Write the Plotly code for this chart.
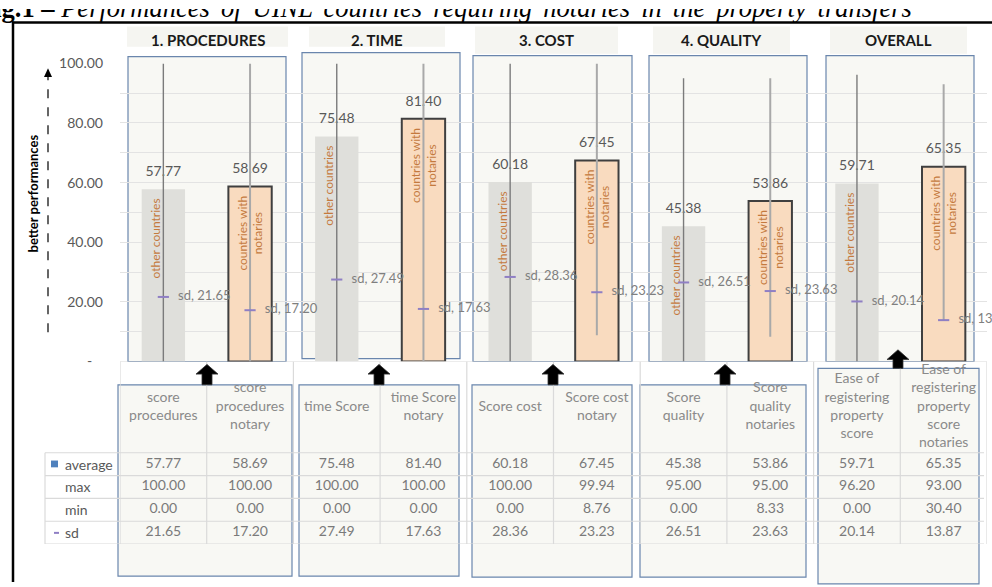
import plotly.graph_objects as go

W, H = 992, 587


def fx(x):
    return x / W


def fy(y):
    return 1 - y / H


# ---------------- data ----------------
groups = ["1. PROCEDURES", "2. TIME", "3. COST", "4. QUALITY", "OVERALL"]
columns = [
    "score<br>procedures",
    "score<br>procedures<br>notary",
    "time Score",
    "time Score<br>notary",
    "Score cost",
    "Score cost<br>notary",
    "Score<br>quality",
    "Score<br>quality<br>notaries",
    "Ease of<br>registering<br>property<br>score",
    "Ease of<br>registering<br>property<br>score<br>notaries",
]
series_names = ["other countries", "countries with<br>notaries"]
average = [57.77, 58.69, 75.48, 81.40, 60.18, 67.45, 45.38, 53.86, 59.71, 65.35]
maximum = [100.00, 100.00, 100.00, 100.00, 100.00, 99.94, 95.00, 95.00, 96.20, 93.00]
minimum = [0.00, 0.00, 0.00, 0.00, 0.00, 8.76, 0.00, 8.33, 0.00, 30.40]
sd = [21.65, 17.20, 27.49, 17.63, 28.36, 23.23, 26.51, 23.63, 20.14, 13.87]
row_names = ["average", "max", "min", "sd"]
y_tick_vals = [0, 10, 20, 30, 40, 50, 60, 70, 80, 90, 100]
y_tick_text = ["-\u00a0\u00a0\u00a0", "", "20.00", "", "40.00", "", "60.00", "", "80.00", "", "100.00"]
y_axis_title = "better performances"
title_bold = "Fig.1 –"
title_italic = "Performances of UINL countries requiring notaries in the property transfers"

# ---------------- styles ----------------
FONT = "Lato"
GRAY_TXT = "#595959"
TABLE_TXT = "#7a7a7a"
LABEL_ORANGE = "#c47a3e"
BOX_LINE = "#6a86ad"
BOX_FILL = "#f8f8f4"
TITLE_FILL = "#f5f5f1"
GRID = "#e3e3e3"

idx = list(range(len(columns)))
other_idx = idx[0::2]
notary_idx = idx[1::2]

fig = go.Figure()

# bars
fig.add_trace(go.Bar(
    x=other_idx, y=[average[i] for i in other_idx], width=0.5,
    marker=dict(color="#dfdfdb", line=dict(width=0)),
    text=[series_names[0] + "\u00a0\u00a0<br>\u00a0"] * len(other_idx),
    textposition="inside", insidetextanchor="end", textangle=-90,
    constraintext="none",
    insidetextfont=dict(family=FONT, size=12, color=LABEL_ORANGE),
    hoverinfo="skip", xaxis="x", yaxis="y",
))
fig.add_trace(go.Bar(
    x=notary_idx, y=[average[i] for i in notary_idx], width=0.5,
    marker=dict(color="#f9dbbf", line=dict(width=2, color="#3f3f3f")),
    text=[series_names[1].replace("<br>", "\u00a0\u00a0<br>") + "\u00a0\u00a0"] * len(notary_idx),
    textposition="inside", insidetextanchor="end", textangle=-90,
    constraintext="none",
    insidetextfont=dict(family=FONT, size=12, color=LABEL_ORANGE),
    hoverinfo="skip", xaxis="x", yaxis="y",
))

# value labels on top of bars
fig.add_trace(go.Scatter(
    x=idx, y=average, mode="markers+text",
    marker=dict(size=14, opacity=0),
    text=[f"{v:.2f}" for v in average], textposition="top center",
    textfont=dict(family=FONT, size=14, color=GRAY_TXT),
    cliponaxis=False, hoverinfo="skip",
))

# high-low lines (highest to lowest of line series)
for sel, col, wd in ((other_idx, "#7b7b7b", 1.4), (notary_idx, "#a9a9a9", 2)):
    xs, ys = [], []
    for i in sel:
        xs += [i, i, None]
        ys += [max(maximum[i], sd[i]), min(minimum[i], sd[i]), None]
    fig.add_trace(go.Scatter(x=xs, y=ys, mode="lines",
                             line=dict(color=col, width=wd),
                             cliponaxis=False, hoverinfo="skip"))

# sd markers and labels
fig.add_trace(go.Scatter(
    x=idx, y=sd, mode="markers",
    marker=dict(symbol="line-ew", size=8, line=dict(color="#8f7fc4", width=2)),
    cliponaxis=False, hoverinfo="skip",
))
fig.add_trace(go.Scatter(
    x=idx, y=sd, mode="markers+text",
    marker=dict(size=22, opacity=0),
    text=[f"sd, {v:.2f}" for v in sd], textposition="middle right",
    textfont=dict(family=FONT, size=13, color="#7f7f7f"),
    cliponaxis=False, hoverinfo="skip",
))

# ---------------- data table (second axes) ----------------
ROW_POS = [3.5, 2.5, 1.5, 0.5]
rows = [average, maximum, minimum, sd]
tx, ty, tt = [], [], []
for r, vals in enumerate(rows):
    for i, v in enumerate(vals):
        tx.append(i)
        ty.append(ROW_POS[r])
        tt.append(f"{v:.2f}")
fig.add_trace(go.Scatter(
    x=tx, y=ty, mode="text", text=tt, textposition="middle center",
    textfont=dict(family=FONT, size=14, color=TABLE_TXT),
    xaxis="x2", yaxis="y2", cliponaxis=False, hoverinfo="skip",
))
fig.add_trace(go.Scatter(
    x=idx, y=[6.0] * len(idx), mode="text", text=columns, textposition="middle center",
    textfont=dict(family=FONT, size=14, color="#8a8a8a"),
    xaxis="x2", yaxis="y2", cliponaxis=False, hoverinfo="skip",
))

# title (justified-looking word spacing), clipped at the top edge like the reference crop
title_html = f"<b>{title_bold}</b> <i>{title_italic.replace(' ', ' ' + chr(0x2006))}</i>"
fig.add_trace(go.Scatter(
    x=[-22], y=[14.6], mode="text", text=[title_html], textposition="top right",
    textfont=dict(family="Liberation Serif", size=26.5, color="#000000"),
    xaxis="x3", yaxis="y3", cliponaxis=True, hoverinfo="skip",
))

# ---------------- shapes ----------------
shapes = []

upper_boxes = [(128, 49, 286, 363), (302, 45, 460, 360), (473, 48, 632, 363),
               (649, 48, 807, 363), (826, 48, 974, 363)]
for x0, y0, x1, y1 in upper_boxes:
    shapes.append(dict(type="rect", xref="paper", yref="paper",
                       x0=fx(x0), x1=fx(x1), y0=fy(y1), y1=fy(y0),
                       line=dict(color=BOX_LINE, width=1.2), fillcolor=BOX_FILL, layer="below"))

title_boxes = [(127, 18, 288, 39), (309, 18, 445, 39), (475, 18, 618, 46),
               (653, 18, 790, 46), (830, 18, 967, 46)]
for x0, y0, x1, y1 in title_boxes:
    shapes.append(dict(type="rect", xref="paper", yref="paper",
                       x0=fx(x0), x1=fx(x1), y0=fy(y1), y1=fy(y0),
                       line=dict(width=0), fillcolor=TITLE_FILL, layer="below"))

lower_boxes = [(118, 387, 292, 584), (299, 387, 459, 584), (472, 387, 632, 585),
               (640, 387, 806, 585), (818, 370, 979, 592)]
for x0, y0, x1, y1 in lower_boxes:
    shapes.append(dict(type="rect", xref="paper", yref="paper",
                       x0=fx(x0), x1=fx(x1), y0=fy(y1), y1=fy(y0),
                       line=dict(color=BOX_LINE, width=1.2), fillcolor=BOX_FILL, layer="below"))

TL = "#dadada"
for k in range(5):
    shapes.append(dict(type="line", xref="paper", yref="y2", x0=fx(45), x1=fx(984),
                       y0=k, y1=k, line=dict(color=TL, width=1.2), layer="below"))
shapes.append(dict(type="line", xref="paper", yref="y2", x0=fx(120), x1=fx(987),
                   y0=8, y1=8, line=dict(color=TL, width=1.2), layer="below"))
for k in range(len(columns) + 1):
    shapes.append(dict(type="line", xref="x2", yref="y2", x0=k - 0.5, x1=k - 0.5,
                       y0=0, y1=8, line=dict(color=TL, width=1.2), layer="below"))
shapes.append(dict(type="line", xref="paper", yref="y2", x0=fx(45), x1=fx(45),
                   y0=0, y1=4, line=dict(color=TL, width=1.2), layer="below"))

shapes.append(dict(type="rect", xref="paper", yref="paper", x0=fx(51), x1=fx(58),
                   y0=fy(472), y1=fy(465), fillcolor="#4f81bd", line=dict(width=0)))
shapes.append(dict(type="line", xref="paper", yref="paper", x0=fx(54), x1=fx(59),
                   y0=fy(539.5), y1=fy(539.5), line=dict(color="#8f7fc4", width=2)))


def up_arrow(cx, tip, base, hw=11, sw=5, head=10):
    pts = [(cx, tip), (cx + hw, tip + head), (cx + sw, tip + head), (cx + sw, base),
           (cx - sw, base), (cx - sw, tip + head), (cx - hw, tip + head)]
    path = "M " + " L ".join(f"{fx(a):.5f},{fy(b):.5f}" for a, b in pts) + " Z"
    return dict(type="path", xref="paper", yref="paper", path=path,
                fillcolor="#000000", line=dict(color="#333333", width=0.8))


for cx, tip, base in [(207, 366, 387), (379, 366, 387), (553, 366, 387),
                      (725, 366, 387), (898, 351, 370)]:
    shapes.append(up_arrow(cx, tip, base))

shapes.append(dict(type="line", xref="paper", yref="paper", x0=fx(48), x1=fx(48),
                   y0=fy(333), y1=fy(68), line=dict(color="#000000", width=1.2, dash="dash")))
shapes.append(dict(type="path", xref="paper", yref="paper",
                   path=f"M {fx(48)},{fy(61)} L {fx(52)},{fy(70)} L {fx(44)},{fy(70)} Z",
                   fillcolor="#000000", line=dict(width=0)))

shapes.append(dict(type="line", xref="paper", yref="paper", x0=fx(12), x1=fx(992),
                   y0=fy(14), y1=fy(14), line=dict(color="#000000", width=2.5)))
shapes.append(dict(type="line", xref="paper", yref="paper", x0=fx(13), x1=fx(13),
                   y0=fy(13), y1=fy(590), line=dict(color="#000000", width=2.5)))

# ---------------- annotations ----------------
annotations = []
for (x0, y0, x1, y1), g in zip(title_boxes, groups):
    annotations.append(dict(text=f"<b>{g}</b>", xref="paper", yref="paper",
                            x=fx((x0 + x1) / 2), y=fy(32), xanchor="center", yanchor="middle",
                            showarrow=False, font=dict(family=FONT, size=15, color="#1a1a1a")))
annotations.append(dict(text=f"<b>{y_axis_title}</b>", xref="paper", yref="paper",
                        x=fx(33), y=fy(190), textangle=-90, showarrow=False,
                        xanchor="center", yanchor="middle",
                        font=dict(family=FONT, size=13, color="#000000")))
for name, pos in zip(row_names, ROW_POS):
    annotations.append(dict(text=name, xref="paper", yref="y2", x=fx(63), y=pos,
                            xanchor="left", yanchor="middle", showarrow=False,
                            font=dict(family=FONT, size=14, color=GRAY_TXT)))

hidden = dict(showgrid=False, showticklabels=False, zeroline=False, showline=False)
fig.update_layout(
    width=W, height=H, margin=dict(l=0, r=0, t=0, b=0),
    paper_bgcolor="#ffffff", plot_bgcolor="rgba(0,0,0,0)",
    showlegend=False, barmode="overlay",
    xaxis=dict(domain=[fx(120), fx(987)], range=[-0.5, 9.5], anchor="y", **hidden),
    yaxis=dict(domain=[fy(363), fy(56)], range=[0, 100], tickvals=y_tick_vals,
               ticktext=y_tick_text, showgrid=True, gridcolor=GRID, gridwidth=1.3,
               zeroline=False, showline=False, ticks="", ticklabelstandoff=16,
               tickfont=dict(family=FONT, size=14, color=GRAY_TXT), anchor="x"),
    xaxis2=dict(domain=[fx(120), fx(987)], range=[-0.5, 9.5], anchor="y2", **hidden),
    yaxis2=dict(domain=[fy(551), fy(363)], range=[0, 8], anchor="x2", **hidden),
    xaxis3=dict(domain=[0, 1], range=[0, W], anchor="y3", **hidden),
    yaxis3=dict(domain=[fy(16), 1], range=[16, 0], anchor="x3", **hidden),
    shapes=shapes, annotations=annotations,
)

page_fix = (
    "document.documentElement.style.margin='0';"
    "document.documentElement.style.overflow='hidden';"
    "document.body.style.margin='0';"
    "document.body.style.overflow='hidden';"
)
fig.write_html("out.html", config={"displayModeBar": False}, post_script=page_fix)
